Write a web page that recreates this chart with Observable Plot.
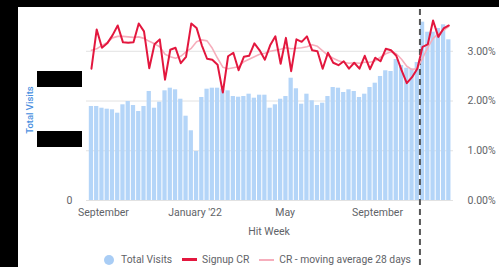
<!DOCTYPE html>
<html>
<head>
<meta charset="utf-8">
<script src="https://cdn.jsdelivr.net/npm/d3@7"></script>
<script src="https://cdn.jsdelivr.net/npm/@observablehq/plot@0.6"></script>
<style>
  html, body { margin: 0; padding: 0; background: #fff; }
  #wrap { position: relative; width: 499px; height: 267px; overflow: hidden; background: #fff; font-family: Roboto, "Open Sans", sans-serif; }
  #chart { position: absolute; left: 0; top: 0; }
  .blk { position: absolute; background: #000; }
  #ylab { position: absolute; left: 29px; top: 110px; transform: translate(-50%, -50%) rotate(-90deg); color: #4a8fe0; font-size: 9.5px; font-weight: 500; white-space: nowrap; }
  #xlab { position: absolute; left: 269px; top: 231px; transform: translate(-50%, -50%); color: #5f6368; font-size: 10.5px; white-space: nowrap; }
  #legend { position: absolute; left: 104px; top: 253px; display: flex; align-items: center; font-size: 10.3px; color: #5f6368; white-space: nowrap; }
  #legend .item { display: flex; align-items: center; margin-right: 10px; }
  #legend .dot { width: 10px; height: 10px; border-radius: 50%; background: #a9cdf5; margin-right: 7px; }
  #legend .ln { width: 15px; margin-right: 5px; }
</style>
</head>
<body>
<div id="wrap">
  <div id="chart"></div>
  <div id="ylab">Total Visits</div>
  <div id="xlab">Hit Week</div>
  <div id="legend"></div>
  <div class="blk" style="left:0;top:0;width:18px;height:267px"></div>
  <div class="blk" style="left:0;top:0;width:499px;height:7px"></div>
  <div class="blk" style="left:37px;top:71px;width:45px;height:16px"></div>
  <div class="blk" style="left:37px;top:131px;width:45px;height:16px"></div>
</div>
<script>
// ---- data ----
const firstWeek = "2021-08-16";
const lastWeek = "2022-12-05";

const totalVisits = [15670,15670,15380,15220,15120,14550,15950,16500,15830,14830,
  15670,18170,15380,16380,18280,18720,18450,16880,14050,11620,
  8170,17170,18550,18720,18720,18550,18280,17330,17220,17330,
  17720,17050,17550,17550,15380,15950,16880,17330,20380,18620,
  16050,17720,16620,15830,16220,17330,18830,18720,18000,18450,
  18170,17170,17720,18830,19550,20670,21620,21500,23500,22500,
  22050,21950,23000,29720,28050,28050,28670,29280,26780];

const signupCR = [2.65,3.44,3.07,3.16,3.32,3.52,3.18,3.17,3.18,3.56,
  3.40,2.66,3.14,3.24,2.43,3.03,3.07,2.76,2.89,3.56,
  3.47,3.12,2.85,2.83,2.73,2.17,2.90,2.97,2.62,2.89,
  2.91,3.16,3.02,2.83,3.12,3.30,2.75,3.27,2.60,3.24,
  3.19,3.30,3.02,3.00,2.65,2.97,2.77,2.72,2.80,2.65,
  2.77,2.65,2.91,2.64,2.87,2.80,3.05,3.02,2.91,2.62,
  2.36,2.48,2.65,3.09,3.14,3.62,3.29,3.46,3.52];

const crMovingAvg28 = [3.02,3.05,3.12,3.18,3.27,3.30,3.30,3.29,3.28,3.29,
  3.26,3.20,3.15,3.09,2.94,2.89,2.86,2.90,2.99,3.06,
  3.19,3.23,3.21,3.06,2.86,2.68,2.65,2.67,2.69,2.79,
  2.84,2.89,2.94,2.96,3.00,3.02,3.04,3.07,3.05,3.06,
  3.07,3.09,3.13,3.10,3.01,2.92,2.86,2.81,2.78,2.76,
  2.77,2.76,2.78,2.78,2.81,2.88,2.95,2.99,2.95,2.84,
  2.70,2.63,2.66,2.86,3.08,3.26,3.35,3.42,3.50];

const xTickDates = ["2021-09-01", "2022-01-01", "2022-05-01", "2022-09-01"];
const xTickLabels = ["September", "January '22", "May", "September"];
const crTicks = [0, 0.01, 0.02, 0.03];
const visitsTicks = [0, 10000, 20000];
const cutoffDate = "2022-10-27T12:00:00Z";

const xDomain = [new Date("2021-08-09T10:00:00Z"), new Date("2022-12-11T05:00:00Z")];
const crMax = 0.038;
const visitsMax = 31500;

// ---- build ----
const weeks = d3.utcMonday.range(new Date(firstWeek), d3.utcDay.offset(new Date(lastWeek), 1));
const rows = weeks.map((date, i) => ({date, visits: totalVisits[i], cr: signupCR[i] / 100, ma: crMovingAvg28[i] / 100}));
const k = crMax / visitsMax;
const labelMap = new Map(xTickDates.map((d, i) => [+new Date(d), xTickLabels[i]]));

const blue = "#b4d5f8", red = "#e3173e", pink = "#f6aebc";

const chart = Plot.plot({
  width: 499,
  height: 267,
  marginLeft: 86,
  marginRight: 46,
  marginTop: 11,
  marginBottom: 67,
  style: {fontFamily: "Roboto, 'Open Sans', sans-serif", fontSize: "10.5px", color: "#5f6368", background: "transparent", overflow: "visible"},
  x: {type: "utc", domain: xDomain},
  y: {domain: [0, crMax]},
  marks: [
    Plot.gridY(crTicks, {stroke: "#e2e2e2", strokeOpacity: 1}),
    Plot.rectY(rows, {
      x1: d => d3.utcHour.offset(d.date, -84),
      x2: d => d3.utcHour.offset(d.date, 84),
      y: d => d.visits * k,
      fill: blue, insetLeft: 0.5, insetRight: 0.5
    }),
    Plot.ruleX([new Date(cutoffDate)], {stroke: "#555", strokeWidth: 2, strokeDasharray: "6,4", insetTop: -12, insetBottom: -70}),
    Plot.line(rows, {x: "date", y: "ma", stroke: pink, strokeWidth: 1.6}),
    Plot.line(rows, {x: "date", y: "cr", stroke: red, strokeWidth: 2}),
    Plot.axisY(crTicks, {anchor: "right", tickSize: 0, tickPadding: 14, tickFormat: d3.format(".2%"), label: null}),
    Plot.axisY(visitsTicks.map(v => v * k), {anchor: "left", tickSize: 0, tickPadding: 14, tickFormat: v => d3.format("~s")(Math.round(v / k)), label: null}),
    Plot.axisX(xTickDates.map(d => new Date(d)), {tickSize: 0, tickPadding: 8, tickFormat: d => labelMap.get(+d), label: null})
  ]
});
document.getElementById("chart").appendChild(chart);

// ---- legend ----
const legend = document.getElementById("legend");
legend.innerHTML = `
  <div class="item"><div class="dot"></div><span>Total Visits</span></div>
  <div class="item"><div class="ln" style="height:3px;background:${red}"></div><span>Signup CR</span></div>
  <div class="item"><div class="ln" style="height:2px;background:${pink}"></div><span>CR - moving average 28 days</span></div>`;
</script>
</body>
</html>
